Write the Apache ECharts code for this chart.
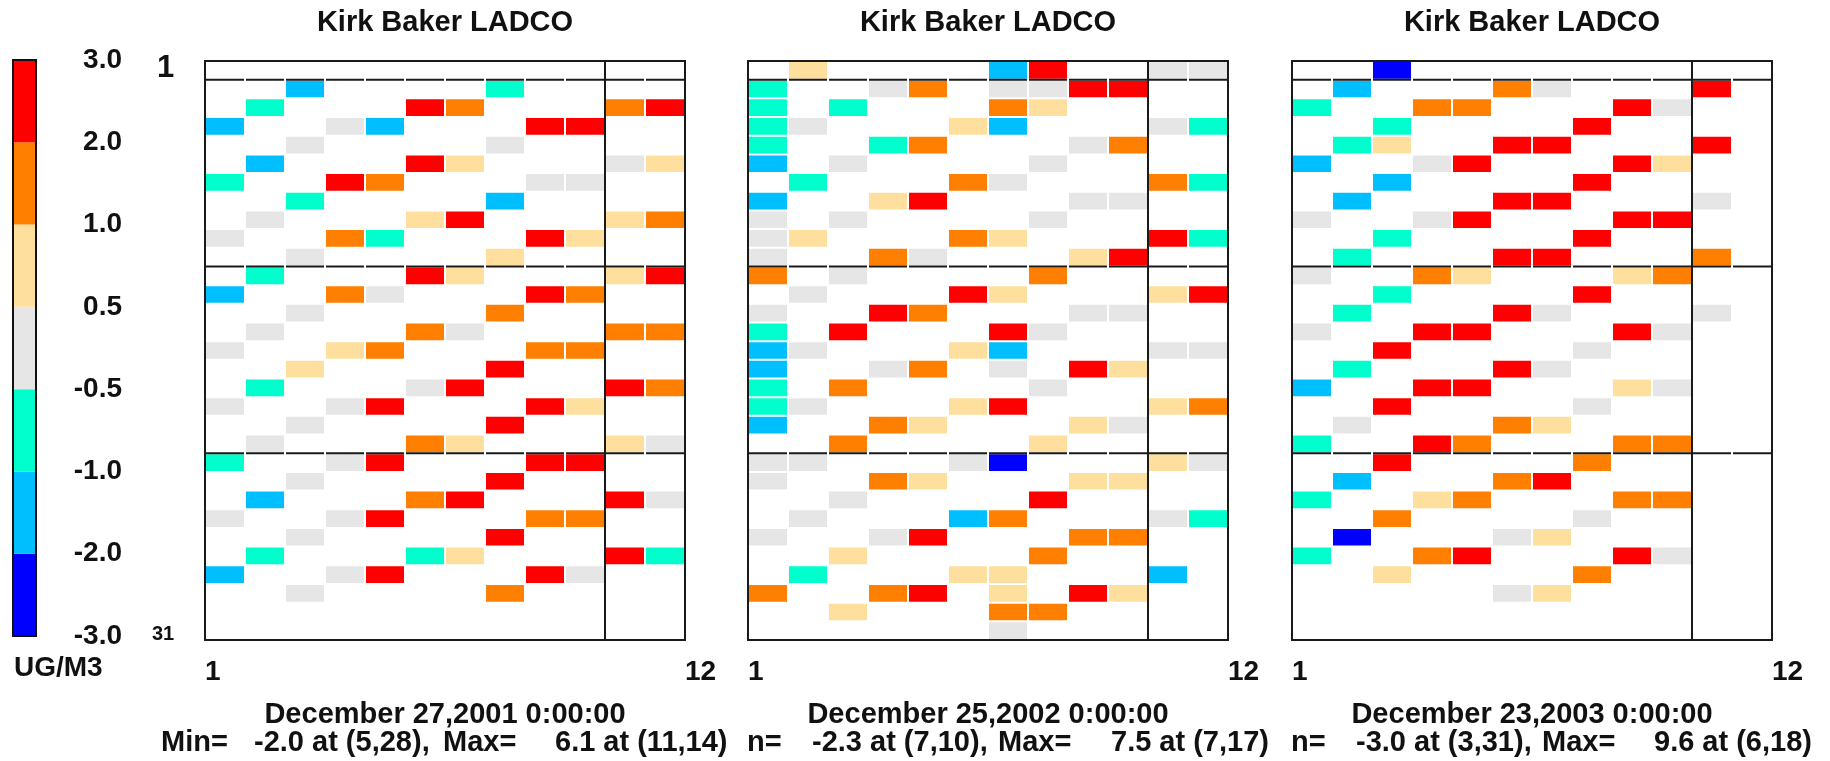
<!DOCTYPE html>
<html>
<head>
<meta charset="utf-8">
<script src="https://cdn.jsdelivr.net/npm/echarts@6/dist/echarts.min.js"></script>
<style>
  html, body { margin: 0; padding: 0; background: #ffffff; }
  #chart { width: 1830px; height: 761px; }
</style>
</head>
<body>
<div id="chart"></div>
<script>
// Three tile plots (12 columns x 31 rows), concentration differences in UG/M3.

const panelTitles = ['Kirk Baker LADCO', 'Kirk Baker LADCO', 'Kirk Baker LADCO'];
const panelDates = ['December 27,2001 0:00:00', 'December 25,2002 0:00:00', 'December 23,2003 0:00:00'];
const statLead = ['Min=', 'n=', 'n='];
const statMin = ['-2.0 at (5,28),', '-2.3 at (7,10),', '-3.0 at (3,31),'];
const statMaxLead = ['Max=', 'Max=', 'Max='];
const statMax = ['6.1 at (11,14)', '7.5 at (7,17)', '9.6 at (6,18)'];

// Colour scale
const legendTicks = ['-3.0', '-2.0', '-1.0', '-0.5', '0.5', '1.0', '2.0', '3.0'];
const legendBreaks = [-3, -2, -1, -0.5, 0.5, 1, 2, 3];
const legendColors = ['#0000FF', '#00BFFF', '#00FFCC', '#E6E6E6', '#FFDF9E', '#FF8000', '#FF0000'];
const unitLabel = 'UG/M3';

// Axis labelling
const colCount = 12;
const colTicks = [0.5, 12.5];
const colLabels = ['1', '12'];
const rowLabels = ['1', '31'];
const colRange = [0.5, 12.5];
const rowRange = [0.5, 31.5];

// Boundary lines drawn across the tiles
const boundaryRows = [30.5, 20.5, 10.5];
const boundaryCols = [10.5];

// Cells: [column, row, value]
const cells2001 = [
  [1,28,-1.5],[1,25,-0.75],[1,22,0],[1,19,-1.5],[1,16,0],[1,13,0],[1,10,-0.75],[1,7,0],[1,4,-1.5],
  [2,29,-0.75],[2,26,-1.5],[2,23,0],[2,20,-0.75],[2,17,0],[2,14,-0.75],[2,11,0],[2,8,-1.5],[2,5,-0.75],
  [3,30,-1.5],[3,27,0],[3,24,-0.75],[3,21,0],[3,18,0],[3,15,0.75],[3,12,0],[3,9,0],[3,6,0],[3,3,0],
  [4,28,0],[4,25,2.5],[4,22,1.5],[4,19,1.5],[4,16,0.75],[4,13,0],[4,10,0],[4,7,0],[4,4,0],
  [5,28,-2.0],[5,25,1.5],[5,22,-0.75],[5,19,0],[5,16,1.5],[5,13,2.5],[5,10,2.5],[5,7,2.5],[5,4,2.5],
  [6,29,2.5],[6,26,2.5],[6,23,0.75],[6,20,2.5],[6,17,1.5],[6,14,0],[6,11,1.5],[6,8,1.5],[6,5,-0.75],
  [7,29,1.5],[7,26,0.75],[7,23,2.5],[7,20,0.75],[7,17,0],[7,14,2.5],[7,11,0.75],[7,8,2.5],[7,5,0.75],
  [8,30,-0.75],[8,27,0],[8,24,-1.5],[8,21,0.75],[8,18,1.5],[8,15,2.5],[8,12,2.5],[8,9,2.5],[8,6,2.5],[8,3,1.5],
  [9,28,2.5],[9,25,0],[9,22,2.5],[9,19,2.5],[9,16,1.5],[9,13,2.5],[9,10,2.5],[9,7,1.5],[9,4,2.5],
  [10,28,2.5],[10,25,0],[10,22,0.75],[10,19,1.5],[10,16,1.5],[10,13,0.75],[10,10,2.5],[10,7,1.5],[10,4,0],
  [11,29,1.5],[11,26,0],[11,23,0.75],[11,20,0.75],[11,17,1.5],[11,14,6.1],[11,11,0.75],[11,8,2.5],[11,5,2.5],
  [12,29,2.5],[12,26,0.75],[12,23,1.5],[12,20,2.5],[12,17,1.5],[12,14,1.5],[12,11,0],[12,8,0],[12,5,-0.75]
];

const cells2002 = [
  [1,30,-0.75],[1,29,-0.75],[1,28,-0.75],[1,27,-0.75],[1,26,-1.5],[1,24,-1.5],[1,23,0],[1,22,0],[1,21,0],[1,20,1.5],
  [1,18,0],[1,17,-0.75],[1,16,-1.5],[1,15,-1.5],[1,14,-0.75],[1,13,-0.75],[1,12,-1.5],[1,10,0],[1,9,0],[1,6,0],[1,3,1.5],
  [2,31,0.75],[2,28,0],[2,25,-0.75],[2,22,0.75],[2,19,0],[2,16,0],[2,13,0],[2,10,0],[2,7,0],[2,4,-0.75],
  [3,29,-0.75],[3,26,0],[3,23,0],[3,20,0],[3,17,2.5],[3,14,1.5],[3,11,1.5],[3,8,0],[3,5,0.75],[3,2,0.75],
  [4,30,0],[4,27,-0.75],[4,24,0.75],[4,21,1.5],[4,18,2.5],[4,15,0],[4,12,1.5],[4,9,1.5],[4,6,0],[4,3,1.5],
  [5,30,1.5],[5,27,1.5],[5,24,2.5],[5,21,0],[5,18,1.5],[5,15,1.5],[5,12,0.75],[5,9,0.75],[5,6,2.5],[5,3,2.5],
  [6,28,0.75],[6,25,1.5],[6,22,1.5],[6,19,2.5],[6,16,0.75],[6,13,0.75],[6,10,0],[6,7,-1.5],[6,4,0.75],
  [7,31,-1.5],[7,30,0],[7,29,1.5],[7,28,-1.5],[7,25,0],[7,22,0.75],[7,19,0.75],[7,17,7.5],[7,16,-1.5],[7,15,0],
  [7,13,2.5],[7,10,-2.3],[7,7,1.5],[7,4,0.75],[7,3,0.75],[7,2,1.5],[7,1,0],
  [8,31,2.5],[8,30,0],[8,29,0.75],[8,26,0],[8,23,0],[8,20,1.5],[8,17,0],[8,14,0],[8,11,0.75],[8,8,2.5],[8,5,1.5],[8,2,1.5],
  [9,30,2.5],[9,27,0],[9,24,0],[9,21,0.75],[9,18,0],[9,15,2.5],[9,12,0.75],[9,9,0.75],[9,6,1.5],[9,3,2.5],
  [10,30,2.5],[10,27,1.5],[10,24,0],[10,21,2.5],[10,18,0],[10,15,0.75],[10,12,0],[10,9,0.75],[10,6,1.5],[10,3,0.75],
  [11,31,0],[11,28,0],[11,25,1.5],[11,22,2.5],[11,19,0.75],[11,16,0],[11,13,0.75],[11,10,0.75],[11,7,0],[11,4,-1.5],
  [12,31,0],[12,28,-0.75],[12,25,-0.75],[12,22,-0.75],[12,19,2.5],[12,16,0],[12,13,1.5],[12,10,0],[12,7,-0.75]
];

const cells2003 = [
  [1,29,-0.75],[1,26,-1.5],[1,23,0],[1,20,0],[1,17,0],[1,14,-1.5],[1,11,-0.75],[1,8,-0.75],[1,5,-0.75],
  [2,30,-1.5],[2,27,-0.75],[2,24,-1.5],[2,21,-0.75],[2,18,-0.75],[2,15,-0.75],[2,12,0],[2,9,-1.5],[2,6,-2.5],
  [3,31,-3.0],[3,28,-0.75],[3,27,0.75],[3,25,-1.5],[3,22,-0.75],[3,19,-0.75],[3,16,2.5],[3,13,2.5],[3,10,2.5],[3,7,1.5],[3,4,0.75],
  [4,29,1.5],[4,26,0],[4,23,0],[4,20,1.5],[4,17,2.5],[4,14,2.5],[4,11,2.5],[4,8,0.75],[4,5,1.5],
  [5,29,1.5],[5,26,2.5],[5,23,2.5],[5,20,0.75],[5,17,2.5],[5,14,2.5],[5,11,1.5],[5,8,1.5],[5,5,2.5],
  [6,30,1.5],[6,27,2.5],[6,24,2.5],[6,21,2.5],[6,18,9.6],[6,15,2.5],[6,12,1.5],[6,9,1.5],[6,6,0],[6,3,0],
  [7,30,0],[7,27,2.5],[7,24,2.5],[7,21,2.5],[7,18,0],[7,15,0],[7,12,0.75],[7,9,2.5],[7,6,0.75],[7,3,0.75],
  [8,28,2.5],[8,25,2.5],[8,22,2.5],[8,19,2.5],[8,16,0],[8,13,0],[8,10,1.5],[8,7,0],[8,4,1.5],
  [9,29,2.5],[9,26,2.5],[9,23,2.5],[9,20,0.75],[9,17,2.5],[9,14,0.75],[9,11,1.5],[9,8,1.5],[9,5,2.5],
  [10,29,0],[10,26,0.75],[10,23,2.5],[10,20,1.5],[10,17,0],[10,14,0],[10,11,1.5],[10,8,1.5],[10,5,0],
  [11,30,2.5],[11,27,2.5],[11,24,0],[11,21,1.5],[11,18,0]
];

const panelCells = [cells2001, cells2002, cells2003];

// ---- layout ----
const FONT = '"Liberation Sans", Arial, sans-serif';
const INK = '#111111';
const panelLeft = [205, 748, 1292];
const panelTop = 61;
const panelWidth = 480;
const panelHeight = 579;
const bar = { left: 13, top: 60, width: 23, height: 576 };

const chart = echarts.init(document.getElementById('chart'), null, { renderer: 'canvas' });

function renderCell(params, api) {
  const x = api.value(0), y = api.value(1);
  const a = api.coord([x - 0.5, y + 0.5]);
  const b = api.coord([x + 0.5, y - 0.5]);
  return {
    type: 'rect',
    shape: { x: a[0] + 1, y: a[1] + 1, width: b[0] - a[0] - 2, height: b[1] - a[1] - 2 },
    style: { fill: api.visual('color') }
  };
}

function renderRowBoundary(params, api) {
  const c = api.value(0), yb = api.value(1);
  const a = api.coord([c - 0.5, yb]);
  const b = api.coord([c + 0.5, yb]);
  return {
    type: 'line',
    shape: { x1: a[0] + 1, y1: a[1], x2: b[0] - 1, y2: b[1] },
    style: { stroke: '#1a1a1a', lineWidth: 2 }
  };
}

function renderColBoundary(params, api) {
  const xb = api.value(0);
  const a = api.coord([xb, rowRange[1]]);
  const b = api.coord([xb, rowRange[0]]);
  return {
    type: 'line',
    shape: { x1: a[0], y1: a[1], x2: b[0], y2: b[1] },
    style: { stroke: '#1a1a1a', lineWidth: 2 }
  };
}

// one short segment per column along each boundary row
const rowBoundaryData = [];
boundaryRows.forEach(yb => {
  for (let c = 1; c <= colCount; c++) rowBoundaryData.push([c, yb]);
});
const colBoundaryData = boundaryCols.map(xb => [xb, 16]);

const grids = [], xAxes = [], yAxes = [], series = [];
panelCells.forEach((cells, i) => {
  grids.push({
    left: panelLeft[i], top: panelTop, width: panelWidth, height: panelHeight,
    show: true, borderColor: '#1a1a1a', borderWidth: 2, backgroundColor: '#ffffff'
  });
  xAxes.push({
    type: 'value', gridIndex: i, min: colRange[0], max: colRange[1],
    axisLine: { show: false }, axisTick: { show: false }, splitLine: { show: false },
    axisLabel: {
      customValues: colTicks,
      formatter: v => colLabels[colTicks.indexOf(v)],
      align: 'left', margin: 18, fontSize: 28, fontWeight: 'bold', fontFamily: FONT, color: INK,
      showMinLabel: true, showMaxLabel: true
    }
  });
  yAxes.push({
    type: 'value', gridIndex: i, min: rowRange[0], max: rowRange[1], show: false
  });
  series.push({
    type: 'custom', name: 'cells' + i, xAxisIndex: i, yAxisIndex: i,
    renderItem: renderCell, data: cells, encode: { x: 0, y: 1 }, silent: true, z: 2
  });
});
panelCells.forEach((cells, i) => {
  series.push({
    type: 'custom', xAxisIndex: i, yAxisIndex: i, renderItem: renderRowBoundary,
    data: rowBoundaryData, encode: { x: 0, y: 1 }, silent: true, z: 5
  });
  series.push({
    type: 'custom', xAxisIndex: i, yAxisIndex: i, renderItem: renderColBoundary,
    data: colBoundaryData, encode: { x: 0, y: 1 }, silent: true, z: 5
  });
});

// Colour bar: one stacked band per colour class
const barGrid = grids.length;
grids.push({ left: bar.left, top: bar.top, width: bar.width, height: bar.height, show: false });
xAxes.push({ type: 'category', gridIndex: barGrid, data: [''], show: false });
yAxes.push({
  type: 'value', gridIndex: barGrid, min: 0, max: legendColors.length, interval: 1, position: 'right',
  axisLine: { show: false }, axisTick: { show: false }, splitLine: { show: false },
  axisLabel: {
    formatter: v => legendTicks[v], align: 'right', margin: 86, fontSize: 28, fontWeight: 'bold',
    fontFamily: FONT, color: INK, showMinLabel: true, showMaxLabel: true
  }
});
legendColors.forEach((col, k) => {
  series.push({
    type: 'bar', xAxisIndex: barGrid, yAxisIndex: barGrid, stack: 'scale', data: [1],
    barWidth: '100%', itemStyle: { color: col }, silent: true
  });
});

// Piecewise colour mapping for the tiles
const pieces = legendColors.map((col, k) => {
  const p = { color: col };
  if (k > 0) p.gte = legendBreaks[k];
  if (k < legendColors.length - 1) p.lt = legendBreaks[k + 1];
  return p;
});

// Text
const graphics = [];
function txt(text, x, y, size, align) {
  graphics.push({
    type: 'text', x: x, y: y, silent: true, z: 100,
    style: {
      text: text, fontSize: size, fontWeight: 'bold', fontFamily: FONT, fill: INK,
      align: align || 'left', verticalAlign: 'middle'
    }
  });
}
const statLeadX = [161, 747, 1291];
const statMinX = [254, 812, 1356];
const statMaxLeadX = [443, 998, 1542];
const statMaxX = [555, 1111, 1654];
panelTitles.forEach((t, i) => {
  const cx = panelLeft[i] + panelWidth / 2;
  txt(t, cx, 23, 29, 'center');
  txt(panelDates[i], cx, 715, 29, 'center');
  txt(statLead[i], statLeadX[i], 743, 29);
  txt(statMin[i], statMinX[i], 743, 29);
  txt(statMaxLead[i], statMaxLeadX[i], 743, 29);
  txt(statMax[i], statMaxX[i], 743, 29);
});
txt(rowLabels[0], 157, 68, 31);
txt(rowLabels[1], 152, 634, 20);
txt(unitLabel, 14, 668, 28);
graphics.push({
  type: 'rect', silent: true, z: 100,
  shape: { x: bar.left, y: bar.top, width: bar.width, height: bar.height },
  style: { fill: 'none', stroke: '#111111', lineWidth: 2 }
});

chart.setOption({
  backgroundColor: '#ffffff',
  animation: false,
  grid: grids,
  xAxis: xAxes,
  yAxis: yAxes,
  visualMap: {
    type: 'piecewise', show: false, dimension: 2, seriesIndex: [0, 1, 2], pieces: pieces
  },
  series: series,
  graphic: { elements: graphics }
});
</script>
</body>
</html>
